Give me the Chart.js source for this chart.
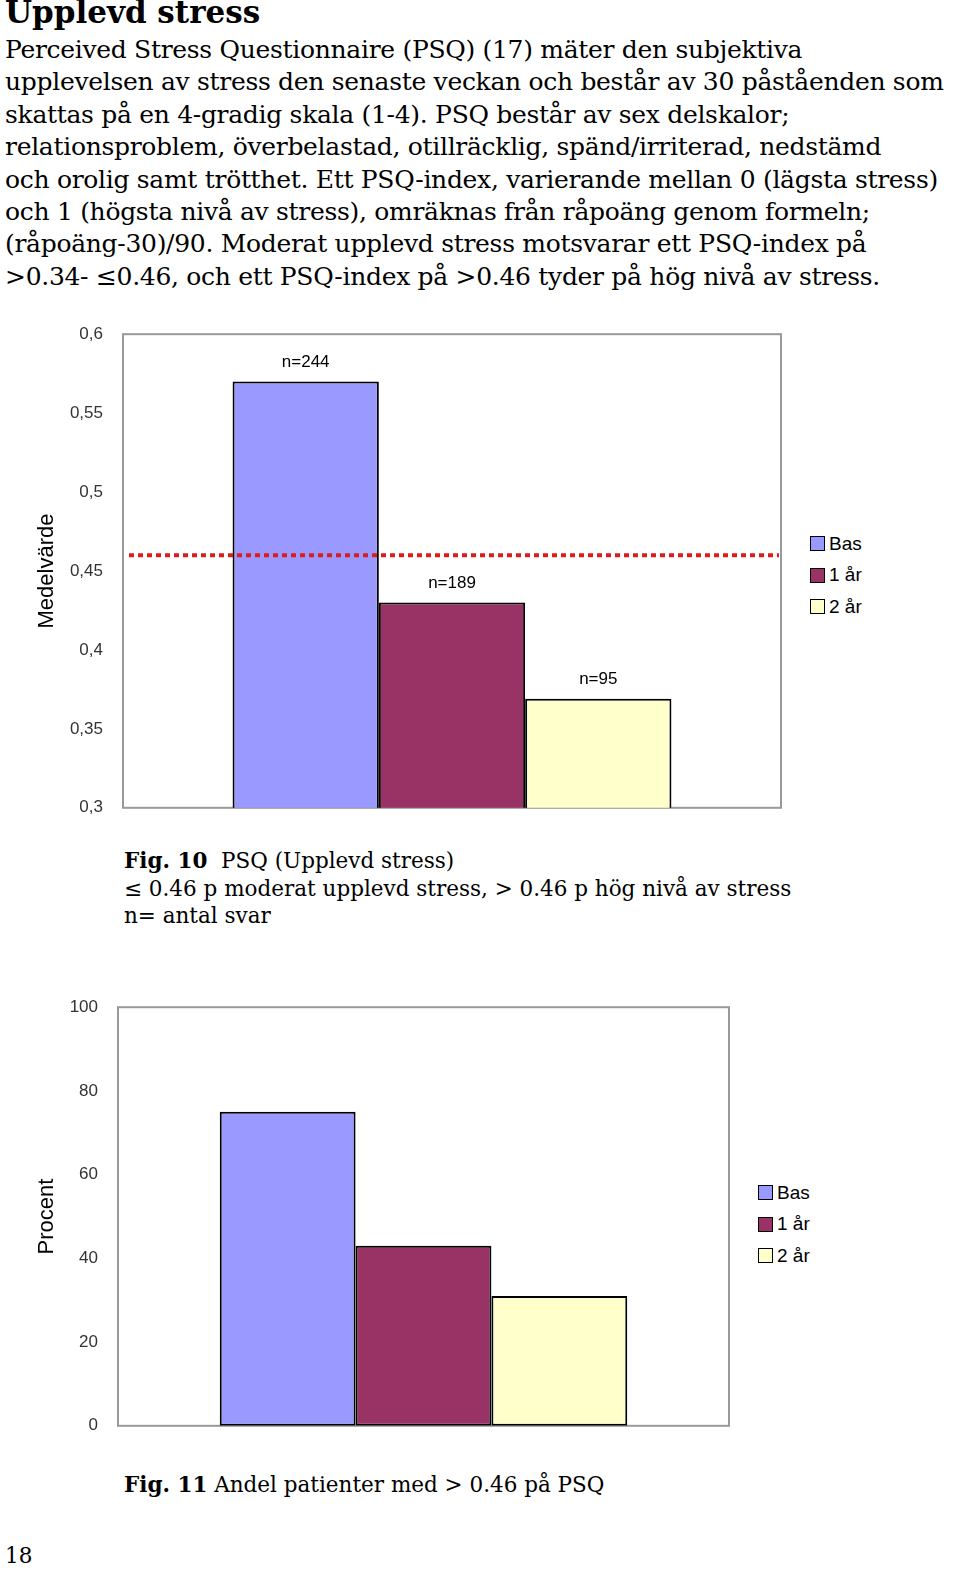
<!DOCTYPE html>
<html>
<head>
<meta charset="utf-8">
<script src="https://cdn.jsdelivr.net/npm/chart.js@4"></script>
<style>
body { margin: 0; width: 960px; height: 1595px; background: #fff; position: relative; font-family: "DejaVu Serif", serif; color: #000; overflow: hidden; }
.abs { position: absolute; }
h1 { position: absolute; left: 5px; top: -6px; margin: 0; font-size: 31px; font-weight: bold; }
.intro { left: 5px; top: 34px; font-size: 25px; line-height: 32.4px; white-space: nowrap; letter-spacing: -0.3px; }
.cap { font-size: 21.5px; line-height: 27.5px; white-space: nowrap; }
.legend { font-family: "Liberation Sans", sans-serif; font-size: 19px; }
.legend div { height: 31.5px; display: flex; align-items: center; }
.legend span { display: inline-block; width: 13px; height: 13px; border: 1.5px solid #000; margin-right: 4px; }
</style>
</head>
<body>
<h1>Upplevd stress</h1>
<div class="abs intro">Perceived Stress Questionnaire (PSQ) (17) mäter den subjektiva<br>upplevelsen av stress den senaste veckan och består av 30 påståenden som<br>skattas på en 4-gradig skala (1-4). PSQ består av sex delskalor;<br>relationsproblem, överbelastad, otillräcklig, spänd/irriterad, nedstämd<br>och orolig samt trötthet. Ett PSQ-index, varierande mellan 0 (lägsta stress)<br>och 1 (högsta nivå av stress), omräknas från råpoäng genom formeln;<br>(råpoäng-30)/90. Moderat upplevd stress motsvarar ett PSQ-index på<br>&gt;0.34- ≤0.46, och ett PSQ-index på &gt;0.46 tyder på hög nivå av stress.</div>

<div class="abs" style="left:30px;top:312px;width:770px;height:518px"><canvas id="c1"></canvas></div>
<div class="abs legend" style="left:810px;top:528px">
  <div><span style="background:#9999ff"></span>Bas</div>
  <div><span style="background:#993366"></span>1 år</div>
  <div><span style="background:#ffffcc"></span>2 år</div>
</div>
<div class="abs cap" style="left:124px;top:847px"><b>Fig. 10</b>&nbsp; PSQ (Upplevd stress)<br>≤ 0.46 p moderat upplevd stress, &gt; 0.46 p hög nivå av stress<br>n= antal svar</div>

<div class="abs" style="left:30px;top:985px;width:710px;height:463px"><canvas id="c2"></canvas></div>
<div class="abs legend" style="left:758px;top:1177px">
  <div><span style="background:#9999ff"></span>Bas</div>
  <div><span style="background:#993366"></span>1 år</div>
  <div><span style="background:#ffffcc"></span>2 år</div>
</div>
<div class="abs cap" style="left:124px;top:1471px"><b>Fig. 11</b> Andel patienter med &gt; 0.46 på PSQ</div>
<div class="abs cap" style="left:5px;top:1542px">18</div>

<script>
const groups = ['Bas', '1 år', '2 år'];
const colors = ['#9999ff', '#993366', '#ffffcc'];
const psqMean = [0.570, 0.430, 0.369];
const psqN = ['n=244', 'n=189', 'n=95'];
const psqLimit = 0.46;
const highShare = [75, 43, 31];

const frame = {
    id: 'frame',
    beforeDatasetsDraw(chart) {
        const a = chart.chartArea, ctx = chart.ctx;
        ctx.save();
        ctx.strokeStyle = '#999';
        ctx.lineWidth = 2;
        ctx.strokeRect(a.left, a.top, a.right - a.left, a.bottom - a.top);
        ctx.restore();
    }
};

const extras = {
    id: 'extras',
    afterDatasetsDraw(chart, args, opts) {
        const ctx = chart.ctx, a = chart.chartArea;
        ctx.save();
        if (opts.limit != null) {
            const y = chart.scales.y.getPixelForValue(opts.limit);
            ctx.strokeStyle = '#dd1c1c';
            ctx.lineWidth = 4;
            ctx.setLineDash([5, 4]);
            ctx.beginPath();
            ctx.moveTo(a.left + 6, y);
            ctx.lineTo(a.right - 2, y);
            ctx.stroke();
            ctx.setLineDash([]);
        }
        if (opts.labels) {
            ctx.fillStyle = '#000';
            ctx.font = '17px "Liberation Sans"';
            ctx.textAlign = 'center';
            chart.data.datasets.forEach((ds, i) => {
                const bar = chart.getDatasetMeta(i).data[0];
                ctx.fillText(opts.labels[i], bar.x, bar.y - 15);
            });
        }
        ctx.restore();
    }
};

function makeChart(id, values, min, max, step, title, axisWidth, pad, extraOpts) {
    return new Chart(document.getElementById(id), {
        type: 'bar',
        data: {
            labels: [''],
            datasets: groups.map((g, i) => ({
                label: g,
                data: [values[i]],
                backgroundColor: colors[i],
                borderColor: '#000',
                borderWidth: 2,
                borderSkipped: false,
                barPercentage: 1,
                categoryPercentage: 0.667
            }))
        },
        options: {
            responsive: true,
            maintainAspectRatio: false,
            animation: false,
            layout: { padding: pad },
            scales: {
                x: { display: false },
                y: {
                    min: min, max: max,
                    grid: { display: false },
                    border: { display: false },
                    ticks: {
                        stepSize: step,
                        color: '#333',
                        padding: 12,
                        font: { size: 17, family: 'Liberation Sans' },
                        callback: v => String(+v.toFixed(2)).replace('.', ',')
                    },
                    title: { display: true, text: title, color: '#000', font: { size: 22, family: 'Liberation Sans' } },
                    afterFit: s => { s.width = axisWidth; }
                }
            },
            plugins: {
                legend: { display: false },
                tooltip: { enabled: false },
                extras: extraOpts
            }
        },
        plugins: [frame, extras]
    });
}

makeChart('c1', psqMean, 0.3, 0.6, 0.05, 'Medelvärde', 93, { top: 10, right: 19, bottom: 14 }, { limit: psqLimit, labels: psqN });
makeChart('c2', highShare, 0, 100, 20, 'Procent', 88, { top: 10, right: 11, bottom: 15 }, {});
</script>
</body>
</html>
